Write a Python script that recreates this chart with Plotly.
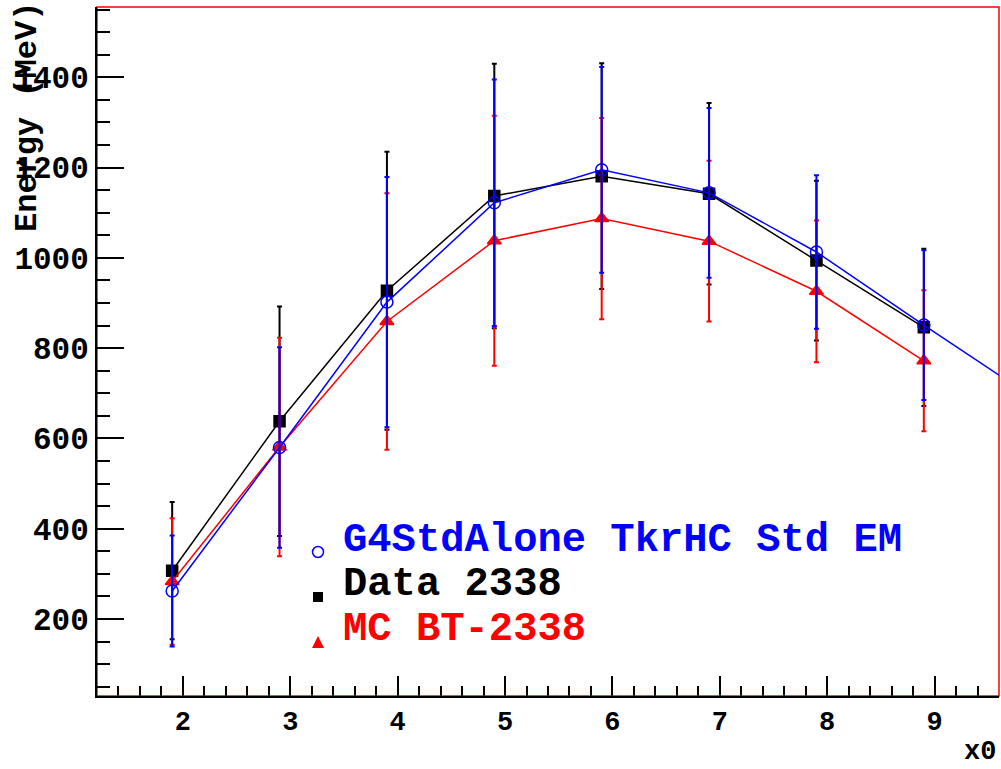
import plotly.graph_objects as go

# Layer positions (in radiation lengths) and mean deposited energy (MeV)
x_data = [1.9, 2.9, 3.9, 4.9, 5.9, 6.9, 7.9, 8.9]
data_e = [307, 638, 927, 1137, 1181, 1142, 994, 846]
data_err = [152, 254, 308, 293, 250, 201, 177, 174]

x_mc = [1.9, 2.9, 3.9, 4.9, 5.9, 6.9, 7.9, 8.9]
mc_e = [283, 581, 859, 1038, 1087, 1037, 926, 772]
mc_err = [140, 242, 284, 277, 223, 178, 157, 156]

x_g4 = [1.9, 2.9, 3.9, 4.9, 5.9, 6.9, 7.9, 8.9, 9.9]
g4_e = [262, 580, 902, 1122, 1195, 1144, 1013, 851, 693]
g4_err = [123, 222, 277, 273, 228, 188, 170, 166, 150]

labels = ["G4StdAlone TkrHC Std EM", "Data 2338", "MC BT-2338"]
colors = ["#0000ff", "#000000", "#ff0000"]

FONT = "Liberation Mono"
W, H = 1001, 769
ML, MR, MT, MB = 97, 2, 7, 73
PW, PH = W - ML - MR, H - MT - MB


def px(x):
    return (x - ML) / PW


def py(y):
    return (H - MB - y) / PH


fig = go.Figure()


def series(x, y, err, color, symbol, size, name):
    fig.add_trace(go.Scatter(
        x=x, y=y, mode="lines+markers", name=name, showlegend=False,
        line=dict(color=color, width=1.5),
        marker=dict(symbol=symbol, size=size, color=color,
                    line=dict(color=color, width=1.5)),
        error_y=dict(type="data", array=err, visible=True, color=color,
                     thickness=2, width=2.5),
    ))


series(x_data, data_e, data_err, colors[1], "square", 11, labels[1])
series(x_mc, mc_e, mc_err, colors[2], "triangle-up", 12, labels[2])
series(x_g4, g4_e, g4_err, colors[0], "circle-open", 12, labels[0])

fig.update_layout(
    width=W, height=H,
    margin=dict(l=ML, r=MR, t=MT, b=MB, pad=0),
    paper_bgcolor="white", plot_bgcolor="white",
    showlegend=False,
    font=dict(family=FONT, color="black"),
)

fig.update_xaxes(
    range=[1.2, 9.6], showgrid=False, zeroline=False,
    showline=True, linecolor="black", linewidth=2, mirror=False,
    ticks="inside", ticklen=20, tickwidth=1.5, tickcolor="black",
    dtick=1, tick0=0,
    minor=dict(ticks="inside", ticklen=10, tickwidth=1.5,
               tickcolor="black", dtick=0.2, tick0=0, showgrid=False),
    tickfont=dict(family=FONT, size=27, weight="bold", color="black"),
)
fig.update_yaxes(
    range=[29.4, 1555.7], showgrid=False, zeroline=False,
    showline=True, linecolor="black", linewidth=2, mirror=False,
    ticks="inside", ticklen=27, tickwidth=1.5, tickcolor="black",
    dtick=200, tick0=0,
    minor=dict(ticks="inside", ticklen=13, tickwidth=1.5,
               tickcolor="black", dtick=50, tick0=0, showgrid=False),
    tickfont=dict(family=FONT, size=31, weight="bold", color="black"),
)

# Red frame around the plotting area
fig.add_shape(type="rect", xref="paper", yref="paper", x0=0, x1=1, y0=0, y1=1,
              line=dict(color="#ff0000", width=1.5), layer="below")

# Axis titles
fig.add_annotation(text="Energy (MeV)", xref="paper", yref="paper",
                   x=px(27), y=py(0), xanchor="center", yanchor="top",
                   textangle=-90, showarrow=False,
                   font=dict(family=FONT, size=32, weight="bold", color="black"))
fig.add_annotation(text="x0", xref="paper", yref="paper",
                   x=px(997), y=py(752), xanchor="right", yanchor="middle",
                   showarrow=False, borderpad=0,
                   font=dict(family=FONT, size=27, weight="bold", color="black"))

# Legend: markers and coloured labels
leg_rows = [540, 584, 629]
leg_mark = [552, 597, 642]
mx = 318
r = 5.5
fig.add_shape(type="circle", xref="paper", yref="paper",
              x0=px(mx - r), x1=px(mx + r), y0=py(leg_mark[0] + r), y1=py(leg_mark[0] - r),
              line=dict(color=colors[0], width=1.5))
s = 5
fig.add_shape(type="rect", xref="paper", yref="paper",
              x0=px(mx - s), x1=px(mx + s), y0=py(leg_mark[1] + s), y1=py(leg_mark[1] - s),
              fillcolor=colors[1], line=dict(color=colors[1], width=0))
t = 6
ty = leg_mark[2]
fig.add_shape(type="path", xref="paper", yref="paper",
              path=f"M {px(mx - t)} {py(ty + t)} L {px(mx + t)} {py(ty + t)} L {px(mx)} {py(ty - t)} Z",
              fillcolor=colors[2], line=dict(color=colors[2], width=0))

for lab, col, yy in zip(labels, colors, leg_rows):
    fig.add_annotation(text=lab, xref="paper", yref="paper",
                       x=px(341), y=py(yy), xanchor="left", yanchor="middle",
                       showarrow=False,
                       font=dict(family=FONT, size=40.5, weight="bold", color=col))

fig.write_html("out.html")
